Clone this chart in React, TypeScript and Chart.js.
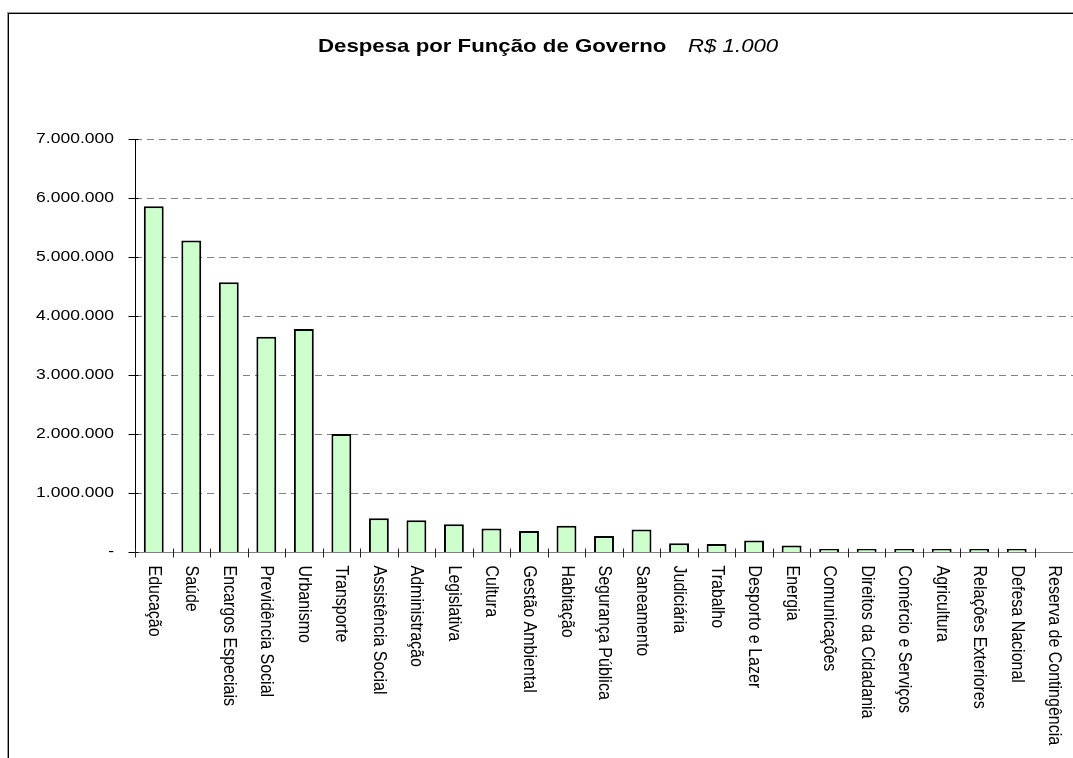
import React, { useEffect, useRef } from 'react';
import { Chart, registerables } from 'chart.js';

Chart.register(...registerables);

const categories = [
  'Educação',
  'Saúde',
  'Encargos Especiais',
  'Previdência Social',
  'Urbanismo',
  'Transporte',
  'Assistência Social',
  'Administração',
  'Legislativa',
  'Cultura',
  'Gestão Ambiental',
  'Habitação',
  'Segurança Pública',
  'Saneamento',
  'Judiciária',
  'Trabalho',
  'Desporto e Lazer',
  'Energia',
  'Comunicações',
  'Direitos da Cidadania',
  'Comércio e Serviços',
  'Agricultura',
  'Relações Exteriores',
  'Defesa Nacional',
  'Reserva de Contingência',
];

// Reserva de Contingência shows no bar at all (empty value)
const despesa: (number | null)[] = [
  5860000, 5280000, 4570000, 3650000, 3780000, 2000000, 571000, 537000, 469000,
  400000, 356000, 447000, 271000, 380000, 147000, 135000, 197000, 110000, 50000,
  45000, 25000, 15000, 12000, 10000, null,
];

const yTickValues = [0, 1000000, 2000000, 3000000, 4000000, 5000000, 6000000, 7000000];
const yTickLabels = ['-', '1.000.000', '2.000.000', '3.000.000', '4.000.000', '5.000.000', '6.000.000', '7.000.000'];

const titleMain = 'Despesa por Função de Governo';
const titleUnit = 'R$ 1.000';

const FONT = '"Liberation Sans", Arial, Helvetica, sans-serif';

function stretchedText(
  ctx: CanvasRenderingContext2D,
  text: string,
  x: number,
  y: number,
  sx: number,
  align: CanvasTextAlign,
  baseline: CanvasTextBaseline
) {
  ctx.save();
  ctx.translate(x, y);
  ctx.scale(sx, 1);
  ctx.textAlign = align;
  ctx.textBaseline = baseline;
  ctx.fillText(text, 0, 0);
  ctx.restore();
}

const decorPlugin = {
  id: 'decor',
  beforeDatasetsDraw(chart: any) {
    const { ctx, chartArea } = chart;
    const y = chart.scales.y;
    ctx.save();
    ctx.strokeStyle = '#808080';
    ctx.lineWidth = 1;
    ctx.setLineDash([7, 5]);
    yTickValues.forEach((v) => {
      if (v === 0) return;
      const py = Math.round(y.getPixelForValue(v)) + 0.5;
      ctx.beginPath();
      ctx.moveTo(chartArea.left, py);
      ctx.lineTo(chartArea.right, py);
      ctx.stroke();
    });
    ctx.restore();
  },
  afterDatasetsDraw(chart: any) {
    const { ctx, chartArea } = chart;
    const x = chart.scales.x;
    const y = chart.scales.y;
    const y0 = Math.round(y.getPixelForValue(0)) + 0.5;
    const yTop = Math.round(y.getPixelForValue(yTickValues[yTickValues.length - 1])) + 0.5;
    const ax = Math.round(chartArea.left) + 0.5;
    ctx.save();

    // x axis line
    ctx.strokeStyle = '#808080';
    ctx.lineWidth = 1.2;
    ctx.beginPath();
    ctx.moveTo(ax, y0);
    ctx.lineTo(chartArea.right, y0);
    ctx.stroke();

    // y axis line
    ctx.strokeStyle = '#000';
    ctx.lineWidth = 1;
    ctx.beginPath();
    ctx.moveTo(ax, yTop);
    ctx.lineTo(ax, y0);
    ctx.stroke();

    // y ticks
    ctx.strokeStyle = '#000';
    yTickValues.forEach((v) => {
      const py = Math.round(y.getPixelForValue(v)) + 0.5;
      ctx.beginPath();
      ctx.moveTo(ax - 7, py);
      ctx.lineTo(ax + 3, py);
      ctx.stroke();
    });

    // x ticks at category boundaries
    ctx.strokeStyle = '#222';
    const n = categories.length;
    const half = (x.getPixelForValue(1) - x.getPixelForValue(0)) / 2;
    for (let i = 0; i < n; i++) {
      const bx = Math.round(x.getPixelForValue(i) - half) + 0.5;
      ctx.beginPath();
      ctx.moveTo(bx, y0 - 4);
      ctx.lineTo(bx, y0 + 5);
      ctx.stroke();
    }

    // y labels
    ctx.fillStyle = '#000';
    ctx.font = `15.5px ${FONT}`;
    yTickValues.forEach((v, i) => {
      const py = y.getPixelForValue(v);
      stretchedText(ctx, yTickLabels[i], 114, py, 1.13, 'right', 'middle');
    });

    // x labels, rotated clockwise
    ctx.font = `16px ${FONT}`;
    categories.forEach((label, i) => {
      const px = x.getPixelForValue(i);
      ctx.save();
      ctx.translate(px, y0 + 13);
      ctx.rotate(Math.PI / 2);
      ctx.scale(1, 1.13);
      ctx.textAlign = 'left';
      ctx.textBaseline = 'middle';
      ctx.fillText(label, 0, 0);
      ctx.restore();
    });

    // title
    ctx.font = `bold 19px ${FONT}`;
    stretchedText(ctx, titleMain, 318, 52, 1.17, 'left', 'alphabetic');
    ctx.font = `italic 19px ${FONT}`;
    stretchedText(ctx, titleUnit, 688, 52, 1.17, 'left', 'alphabetic');

    ctx.restore();
  },
};

export default function App() {
  const canvasRef = useRef<HTMLCanvasElement | null>(null);

  useEffect(() => {
    document.body.style.margin = '0';
    const canvas = canvasRef.current;
    if (!canvas) return;
    const chart = new Chart(canvas, {
      type: 'bar',
      data: {
        labels: categories,
        datasets: [
          {
            label: 'Despesa',
            data: despesa,
            backgroundColor: '#CCFFCC',
            borderColor: '#000000',
            borderWidth: 2,
            barPercentage: 0.53,
            categoryPercentage: 1,
            minBarLength: 3,
          },
        ],
      },
      options: {
        responsive: false,
        animation: false,
        devicePixelRatio: 1,
        layout: {
          padding: { left: 135, top: 139, right: 0, bottom: 206 },
        },
        plugins: {
          legend: { display: false },
          title: { display: false },
          tooltip: { enabled: false },
        },
        scales: {
          x: {
            display: false,
            offset: true,
          },
          y: {
            display: false,
            min: 0,
            max: 7000000,
            ticks: { stepSize: 1000000 },
          },
        },
      },
      plugins: [decorPlugin],
    });
    return () => chart.destroy();
  }, []);

  return (
    <div style={{ position: 'relative', width: 1073, height: 758, overflow: 'hidden', background: '#fff' }}>
      <div
        style={{
          position: 'absolute',
          left: 8,
          top: 13,
          width: 1200,
          height: 900,
          borderLeft: '1px solid #000',
          borderTop: '1px solid #000',
          boxShadow: '-1px -1px 0 #999',
        }}
      />
      <canvas ref={canvasRef} width={1073} height={758} style={{ position: 'absolute', left: 0, top: 0, display: 'block' }} />
    </div>
  );
}
